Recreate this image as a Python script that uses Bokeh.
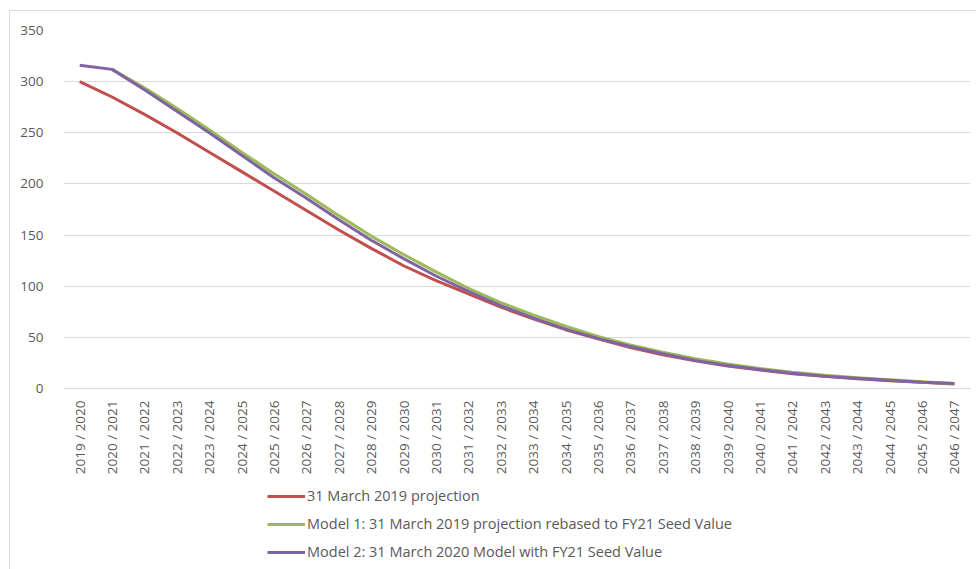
import math
from bokeh.plotting import figure
from bokeh.layouts import column
from bokeh.models import FactorRange, Range1d, FixedTicker, Legend, LegendItem, ColumnDataSource
from bokeh.embed import file_html
from bokeh.resources import INLINE

years = [f"{y} / {y+1}" for y in range(2019, 2047)]

red_2019 = [300, 285, 268, 250, 231, 212, 193, 174, 155, 137, 120, 105.5, 92.5, 79.5,
            68, 57.5, 48.5, 40, 33, 27, 22, 18, 14.5, 12, 9.5, 7.5, 6, 4.5]
green_model1 = [float("nan"), 312, 294, 274, 253, 231, 210, 190, 169, 149, 131, 114, 98, 84,
                72, 61, 51, 42.5, 35.5, 29, 24, 19.5, 16, 13, 10.5, 8.5, 6.5, 5]
purple_model2 = [316, 312, 292, 271, 250, 228, 206, 186, 165, 145, 127, 110, 95, 81,
                 69, 58, 49, 41, 34, 27.5, 22.5, 18.5, 15, 12, 10, 8, 6, 5]

labels = ["31 March 2019 projection",
          "Model 1: 31 March 2019 projection rebased to FY21 Seed Value",
          "Model 2: 31 March 2020 Model with FY21 Seed Value"]
colors = ["#C0504D", "#9BBB59", "#8064A2"]

FONT = "Open Sans"

p = figure(width=966, height=470, x_range=FactorRange(*years), y_range=Range1d(0, 350),
           output_backend="svg", toolbar_location=None,
           min_border_left=53, min_border_right=6, min_border_top=19, min_border_bottom=93)
p.outline_line_color = None
p.background_fill_color = "white"
p.border_fill_color = "white"

src = ColumnDataSource(dict(x=years, r=red_2019, g=green_model1, pu=purple_model2))
renderers = []
for col, c in zip(["r", "g", "pu"], colors):
    renderers.append(p.line("x", col, source=src, line_color=c, line_width=3))

p.xgrid.grid_line_color = None
p.ygrid.grid_line_color = "#d9d9d9"
p.ygrid.grid_line_width = 1

p.yaxis.ticker = FixedTicker(ticks=[0, 50, 100, 150, 200, 250, 300, 350])
p.yaxis.axis_line_color = None
p.yaxis.major_tick_line_color = None
p.yaxis.minor_tick_line_color = None
p.yaxis.major_label_standoff = 14
p.yaxis.major_label_text_font = FONT
p.yaxis.major_label_text_font_size = "13.5px"
p.yaxis.major_label_text_color = "#595959"

p.xaxis.axis_line_color = "#d9d9d9"
p.xaxis.major_tick_line_color = None
p.xaxis.minor_tick_line_color = None
p.xaxis.major_label_orientation = math.pi / 2
p.xaxis.major_label_standoff = 6
p.xaxis.major_label_text_font = FONT
p.xaxis.major_label_text_font_size = "13.5px"
p.xaxis.major_label_text_color = "#595959"

# legend panel below the chart
p2 = figure(width=966, height=89, x_range=Range1d(0, 1), y_range=Range1d(0, 1),
            x_axis_type=None, y_axis_type=None, output_backend="svg", toolbar_location=None,
            min_border=0)
p2.outline_line_color = None
p2.xgrid.grid_line_color = None
p2.ygrid.grid_line_color = None
dummies = [p2.line(x=[5, 6], y=[5, 6], line_color=c, line_width=3) for c in colors]

legend = Legend(items=[LegendItem(label=l, renderers=[r]) for l, r in zip(labels, dummies)],
                location=(204, 9), orientation="vertical",
                border_line_color=None, background_fill_alpha=0,
                padding=0, margin=0, spacing=9, glyph_width=38, glyph_height=16,
                label_height=16, label_standoff=2,
                label_text_font=FONT, label_text_font_size="14.5px", label_text_color="#595959")
p2.add_layout(legend, "center")

layout = column(p, p2, spacing=0)
layout.margin = (10, 0, 0, 9)
layout.styles = {"border-left": "1px solid #d9d9d9", "border-top": "1px solid #d9d9d9"}

open("out.html", "w").write(file_html(layout, INLINE))
